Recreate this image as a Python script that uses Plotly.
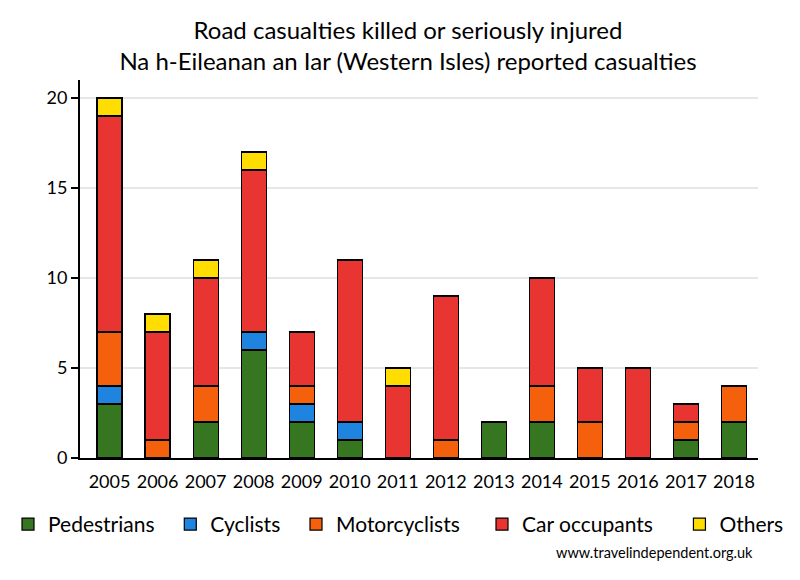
import plotly.graph_objects as go

years = ["2005", "2006", "2007", "2008", "2009", "2010", "2011", "2012", "2013", "2014", "2015", "2016", "2017", "2018"]
pedestrians = [3, 0, 2, 6, 2, 1, 0, 0, 2, 2, 0, 0, 1, 2]
cyclists = [1, 0, 0, 1, 1, 1, 0, 0, 0, 0, 0, 0, 0, 0]
motorcyclists = [3, 1, 2, 0, 1, 0, 0, 1, 0, 2, 2, 0, 1, 2]
car_occupants = [12, 6, 6, 9, 3, 9, 4, 8, 0, 6, 3, 5, 1, 0]
others = [1, 1, 1, 1, 0, 0, 1, 0, 0, 0, 0, 0, 0, 0]

series = [
    ("Pedestrians", pedestrians, "#367621", "legend", 2),
    ("Cyclists", cyclists, "#1e84e0", "legend", 2),
    ("Motorcyclists", motorcyclists, "#f4600c", "legend", 0),
    ("Car occupants", car_occupants, "#e83532", "legend2", 4),
    ("Others", others, "#ffdd00", "legend2", 0),
]

FONT = "Lato, 'Open Sans', sans-serif"

fig = go.Figure()
for name, vals, col, leg, pad in series:
    fig.add_trace(go.Bar(
        x=years, y=[v if v else None for v in vals], name=name + "\u00a0" * pad,
        marker=dict(color=col, line=dict(color="black", width=1.2)),
        width=0.52, legend=leg,
    ))

legend_style = dict(
    orientation="h", xref="container", yref="container",
    xanchor="left", y=0.145, yanchor="top",
    font=dict(family=FONT, size=21, color="black"),
    traceorder="normal", itemwidth=30, bgcolor="rgba(0,0,0,0)",
)

fig.update_layout(
    barmode="stack",
    width=800, height=580,
    paper_bgcolor="white", plot_bgcolor="white",
    margin=dict(l=72, r=50, t=72, b=130, autoexpand=False),
    font=dict(family=FONT, size=18, color="black"),
    title=dict(
        text="Road casualties killed or seriously injured<br>Na h-Eileanan an Iar (Western Isles) reported casualties",
        x=0.5, xanchor="center", y=0.947, yanchor="top",
        font=dict(family=FONT, size=24, color="black"),
    ),
    legend=dict(x=0.0, **legend_style),
    legend2=dict(x=0.5925, **legend_style),
    showlegend=True,
)
fig.update_xaxes(
    range=[-0.615, 13.5],
    showline=True, linecolor="black", linewidth=2,
    ticks="outside", ticklen=6, tickcolor="rgba(0,0,0,0)", showgrid=False,
    tickfont=dict(family=FONT, size=18), tickangle=0,
)
fig.update_yaxes(
    range=[0, 21], tickvals=[0, 5, 10, 15, 20],
    showline=True, linecolor="black", linewidth=2,
    ticks="outside", ticklen=7, tickcolor="black", tickwidth=2,
    showgrid=True, gridcolor="#e6e6e6", gridwidth=2,
    zeroline=False,
    tickfont=dict(family=FONT, size=18),
)
fig.add_annotation(
    text="www.travelindependent.org.uk", xref="paper", yref="paper",
    x=1.0, xanchor="right", xshift=-3, y=-0.251, yanchor="middle",
    showarrow=False, font=dict(family=FONT, size=14.5, color="black"),
)

fig.write_html("out.html")
